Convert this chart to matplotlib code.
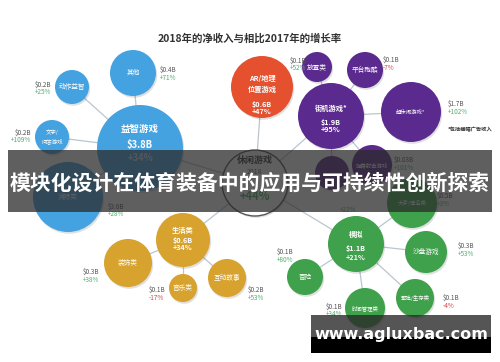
import matplotlib
matplotlib.use("Agg")
import matplotlib.pyplot as plt
from matplotlib.patches import Circle, Rectangle

plt.rcParams['font.family'] = ['Noto Sans CJK SC', 'DejaVu Sans']

# data: 2018 net revenue ($B) and growth vs 2017 (%)
names = ['休闲游戏', '益智游戏', '其他', '动作益智', '文字/\n问答游戏', '消除类',
         'AR/地理\n位置游戏', '街机游戏*', '放置类', '平台跑酷', '超休闲游戏*',
         '弹幕射击游戏', '', '模拟', '大亨/建造类', '沙盘游戏', '冒险',
         '时间管理类', '繁殖/生存类', '生活类', '装饰类', '音乐类', '互动故事']
revenue = [None, 3.8, 0.4, 0.2, 0.2, 3.0, 0.6, 1.9, 0.1, 0.1, 1.7, 0.03, None,
           1.1, 0.5, 0.3, 0.1, 0.1, 0.1, 0.6, 0.3, 0.1, 0.2]
growth = [44, 34, 71, 25, 109, 28, 47, 95, 52, -7, 102, 101, 22,
          21, 3, 53, 80, 34, -4, 34, 38, -17, 53]
group = ['hub', 'blue', 'blue', 'blue', 'blue', 'blue', 'red', 'purple', 'purple',
         'purple', 'purple', 'purple', 'purple', 'green', 'green', 'green', 'green',
         'green', 'green', 'gold', 'gold', 'gold', 'gold']
parent = [None, 0, 1, 1, 1, 1, 0, 0, 7, 7, 7, 7, 7, 0, 13, 13, 13, 13, 13, 0, 19, 19, 19]

# layout (pixel space): centre x, centre y, radius
lx = [255, 140, 133, 72, 52, 68, 262, 331, 317, 365, 411, 372, 332,
      356, 412, 426, 305, 365, 415, 183, 128, 183, 227]
ly = [183, 148, 73, 87, 137, 197, 87, 116, 67, 70, 112, 165, 173,
      244, 203, 252, 277, 308, 298, 240, 263, 288, 278]
lr = [33, 43, 23, 17, 17, 35, 31, 33, 15, 18, 30, 20, 17,
      28, 25, 21, 18, 20, 19, 27, 24, 14, 19]
# where the outside value label goes (None = inside the bubble)
lab = [None, None, (160, 70, 'left'), (51, 85, 'right'), (31, 133, 'right'),
       (108, 207, 'left'), None, None, (290, 61, 'left'), (383, 60, 'left'),
       (448, 104, 'left'), (394, 160, 'left'), (340, 203, 'left'),
       None, (437, 196, 'left'), (458, 246, 'left'), (277, 252, 'left'),
       (326, 307, 'left'), (443, 298, 'left'), None, (83, 272, 'left'),
       (149, 290, 'left'), (248, 290, 'left')]
# vertical offsets of name / value / growth for bubbles that carry their own values
inside = {1: (-19, -3, 10), 6: (-3, 17, 25), 7: (-8, 6, 14),
          13: (-10, 5, 14), 19: (-10, 1, 8)}

colors = {'hub': 'white', 'blue': '#45a2e0', 'red': '#e5512f',
          'purple': '#5a2a8e', 'green': '#3fa14c', 'gold': '#d7a22e'}

fig = plt.figure(figsize=(5, 3.62), dpi=100)
ax = fig.add_axes([0, 0, 1, 1])
ax.set_xlim(0, 500)
ax.set_ylim(362, 0)
ax.axis('off')

ax.text(250, 38, '2018年的净收入与相比2017年的增长率', ha='center', va='center',
        fontsize=7.5, fontweight='bold', color='#333333')
ax.text(448, 130, '*包括横幅广告收入', ha='left', va='center', fontsize=3.8,
        color='#333333', fontweight='bold')

# links
for i, p in enumerate(parent):
    if p is None:
        continue
    ax.plot([lx[i], lx[p]], [ly[i], ly[p]], color='#b9c6cf', lw=0.9, zorder=1)

def money(v):
    return '$%.2fB' % v if v < 0.1 else '$%.1fB' % v

def pct(g):
    return '%+d%%' % g

for i in range(len(names)):
    ax.add_patch(Circle((lx[i] + 1.2, ly[i] + 1.8), lr[i], color='#000000',
                        alpha=0.12, zorder=2, lw=0))
    if group[i] == 'hub':
        ax.add_patch(Circle((lx[i], ly[i]), lr[i], facecolor='white',
                            edgecolor='#555555', lw=1.0, zorder=3))
        ax.text(lx[i], ly[i] - 23, names[i], ha='center', va='center',
                fontsize=6.5, fontweight='bold', color='#333333', zorder=4)
        ax.text(lx[i], ly[i] - 11, '2018', ha='center', va='center',
                fontsize=5, color='#555555', zorder=4)
        ax.text(lx[i], ly[i] + 14, pct(growth[i]), ha='center', va='center',
                fontsize=8, fontweight='bold', color='#4caf63', zorder=4)
        continue
    ax.add_patch(Circle((lx[i], ly[i]), lr[i], color=colors[group[i]], zorder=3, lw=0))
    if lab[i] is None:
        big = lr[i] >= 40
        fs = 6.8 if big else 5.2
        dn, dv, dg = inside[i]
        ax.text(lx[i], ly[i] + dn, names[i], ha='center', va='center',
                fontsize=fs, color='white', zorder=4, fontweight='bold',
                linespacing=1.7)
        ax.text(lx[i], ly[i] + dv, money(revenue[i]), ha='center', va='center',
                fontsize=fs, color='white', fontweight='bold', zorder=4)
        ax.text(lx[i], ly[i] + dg, pct(growth[i]), ha='center', va='center',
                fontsize=fs, color='#e6f1fa' if big else 'white',
                fontweight='bold', zorder=4, alpha=0.8 if big else 1)
    else:
        fs = 4.8 if len(names[i]) < 5 else 3.9
        ax.text(lx[i], ly[i], names[i], ha='center', va='center', fontsize=fs,
                color='white', zorder=4, linespacing=1.8)
        tx, ty, ha = lab[i]
        gcol = '#4fae6c' if growth[i] >= 0 else '#d9434b'
        if revenue[i] is not None:
            ax.text(tx, ty, money(revenue[i]), ha=ha, va='center', fontsize=4.6,
                    color='#555555', zorder=4)
        ax.text(tx, ty + 7.5, pct(growth[i]), ha=ha, va='center', fontsize=4.6,
                color=gcol, zorder=4)

# banner overlay
ax.add_patch(Rectangle((8, 150), 484, 62, color='#2a2a2a', alpha=0.75, zorder=10, lw=0))
ax.text(250, 183, '模块化设计在体育装备中的应用与可持续性创新探索', ha='center',
        va='center', fontsize=15, fontweight='bold', color='white', zorder=11)

# watermark
ax.add_patch(Rectangle((311, 315), 180, 22, color='#2a2a2a', alpha=0.8, zorder=10, lw=0))
ax.add_patch(Rectangle((311, 337), 180, 16, color='black', zorder=10, lw=0))
ax.text(401, 335, 'www.agluxbac.com', ha='center', va='center', fontsize=11.5,
        fontweight='bold', color='white', family='DejaVu Sans', zorder=11)

fig.savefig('out.png', dpi=100)
